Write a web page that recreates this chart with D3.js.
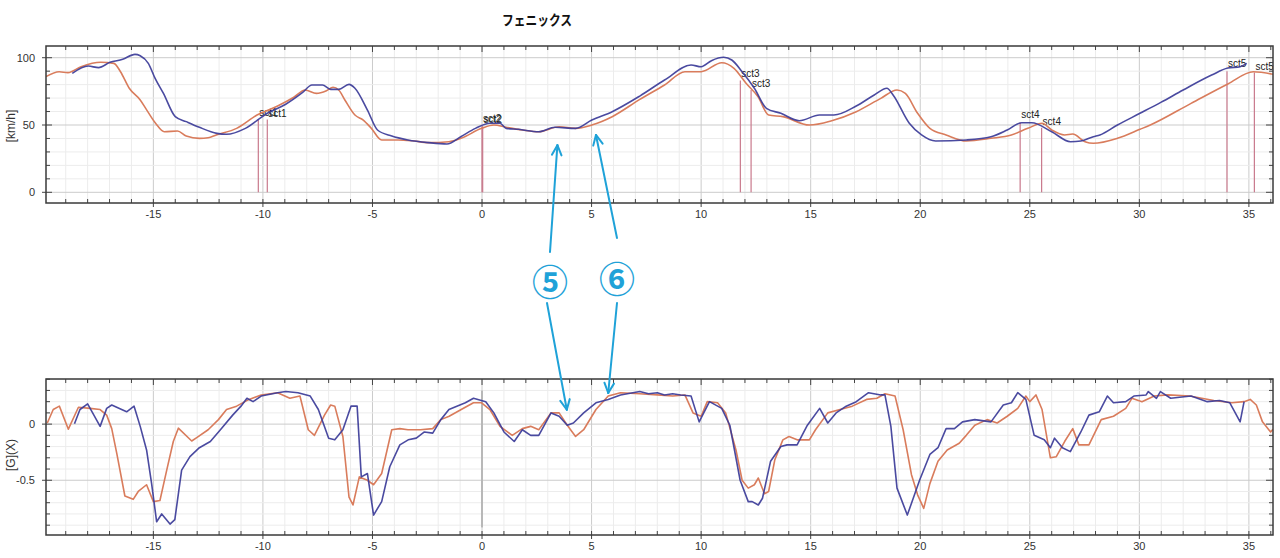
<!DOCTYPE html>
<html><head><meta charset="utf-8">
<script src="https://cdn.jsdelivr.net/npm/d3@7"></script>
<style>body{margin:0;background:#fff}svg{display:block}</style>
</head><body>
<svg id="c" width="1280" height="558"></svg>
<script>
// ---------------- DATA ----------------
const title = "フェニックス";
const speedUnit = "[km/h]";
const gUnit = "[G](X)";

const speedOrangeX = [-19.9,-19.3,-18.9,-18.3,-17.4,-16.8,-16.5,-16.1,-15.6,-15.3,-14.9,-14.5,-13.9,-13.5,-12.9,-12.5,-12.13,-11.2,-10.27,-9.33,-8.59,-8.07,-7.56,-7.1,-6.8,-6.54,-6.26,-5.8,-5.42,-5.05,-4.58,-3.83,-3.19,-2.44,-1.51,-0.96,-0.02,0.54,1.1,1.84,2.59,3.52,4.27,5.01,5.94,7.2,8.33,9.26,10.0,10.94,11.5,12.05,12.6,13.08,13.73,14.94,15.96,17.08,18.2,18.94,19.32,19.88,20.44,21.18,22.1,23.23,24.16,24.91,25.56,26.0,26.59,26.96,27.52,27.9,29.0,30.03,30.5,32.36,34.04,35.2,36.1];
const speedOrange = [86,89.6,88.9,93.3,96.6,95.8,89.6,77.3,68.6,61.1,51.3,45,45.5,41.8,40.1,40.5,42.6,47.5,57.4,64.1,70.6,76,73.5,75.5,78,76,68.6,57.4,53.7,47.5,38.9,38.9,38.3,36.9,37.6,40.1,47.5,50,48.3,46.3,45,48.7,47.5,50,56.2,69,79.7,89.6,89.6,96.3,92.1,81,71,57.4,56.2,50,53.2,59.9,69.8,76,73.5,58.7,47.5,42.6,38.1,40.1,42.6,47.5,51.3,46.3,42.6,43.3,37.6,36.4,40.1,46.8,50,66.1,80.5,89.6,87.7];

const speedBlueX = [-18.7,-17.97,-17.5,-16.98,-16.4,-15.84,-15.6,-15.23,-14.92,-14.54,-14.0,-13.5,-12.9,-12.1,-11.66,-10.8,-9.8,-8.96,-8.2,-7.76,-7.28,-6.91,-6.54,-6.07,-5.8,-5.23,-4.77,-4.12,-3.38,-2.44,-1.6,-0.97,-0.3,0.36,0.82,1.1,1.66,2.59,3.33,4.27,5.01,5.94,7.2,8.33,9.54,10.0,10.47,11.03,11.4,11.87,12.43,12.98,13.64,14.48,15.4,16.06,17.08,17.9,18.48,18.76,19.5,20.06,20.7,22.1,23.23,23.97,24.63,25.09,26.0,26.86,27.33,27.9,28.2,29.0,30.03,31.0,32.0,33.3,34.04,34.6,34.9];
const speedBlue = [88.4,93.8,92.6,96.6,98.8,102.5,101.5,95.8,84.7,73.5,56.2,52.5,48.3,43.8,43.1,47.5,58.7,65.4,74,79.7,79.7,76.5,76.5,80.2,77.3,61.1,46.3,41.8,38.9,36.9,35.9,41.3,47.5,51.3,51.3,47.5,46.8,45,48.3,47.5,53.7,59.9,71.5,83.4,94.6,93.3,97.8,100.3,98.3,89.6,77.3,62.4,58.7,53.2,57.4,57.4,64.1,72.3,77.3,72.3,51.3,42.6,38.1,38.9,41.3,46.3,51.7,51.7,45,37.6,38.1,41.3,42.6,50,58.7,67,76,87.1,92.3,93.3,95.8];

const gOrangeX = [-19.84,-19.57,-19.29,-18.88,-18.42,-17.89,-17.43,-17.13,-16.9,-16.67,-16.3,-15.92,-15.69,-15.31,-15.0,-14.7,-14.39,-14.09,-13.86,-13.25,-13.02,-12.5,-12.03,-11.66,-11.2,-10.63,-10.08,-9.33,-8.77,-8.31,-7.93,-7.65,-7.19,-6.91,-6.72,-6.35,-6.07,-5.89,-5.6,-5.23,-4.95,-4.58,-4.12,-3.75,-3.38,-2.81,-2.25,-1.88,-1.5,-0.95,-0.39,-0.02,0.36,0.82,1.38,1.84,2.22,2.59,3.15,3.52,3.89,4.27,4.64,5.2,5.76,6.32,7.2,8.0,8.7,9.26,9.63,10.0,10.28,10.75,11.12,11.59,11.87,12.15,12.43,12.61,12.89,13.08,13.36,13.73,14.01,14.38,14.94,15.22,15.78,16.34,16.9,17.55,18.02,18.39,18.85,19.22,19.6,19.88,20.16,20.44,20.81,21.23,21.78,22.1,22.49,23.05,23.51,23.97,24.45,24.82,25.0,25.28,25.56,25.94,26.21,26.59,26.96,27.24,27.7,28.26,28.82,29.38,29.66,30.12,30.68,31.3,32.3,33.4,34.22,34.78,35.06,35.34,35.62,35.99,36.1];
const gOrange = [0.01,0.13,0.16,-0.045,0.15,0.14,0.13,0.08,-0.04,-0.26,-0.64,-0.67,-0.6,-0.54,-0.69,-0.68,-0.41,-0.155,-0.036,-0.15,-0.12,-0.05,0.04,0.13,0.16,0.22,0.26,0.28,0.23,0.25,-0.05,-0.1,0.08,0.17,0.16,-0.11,-0.65,-0.72,-0.47,-0.5,-0.54,-0.44,-0.05,-0.04,-0.05,-0.05,-0.04,0.04,0.07,0.13,0.19,0.19,0.13,-0.02,-0.1,-0.04,-0.02,-0.05,0.1,0.1,-0.01,-0.11,-0.05,0.13,0.25,0.28,0.27,0.26,0.25,0.26,0.1,0.07,0.2,0.19,0.1,-0.23,-0.5,-0.57,-0.54,-0.48,-0.62,-0.6,-0.32,-0.14,-0.11,-0.14,-0.14,-0.05,0.1,0.13,0.16,0.22,0.23,0.27,0.25,-0.05,-0.45,-0.63,-0.75,-0.53,-0.33,-0.23,-0.17,-0.1,-0.01,0.04,0.01,0.07,0.14,0.25,0.2,0.26,0.13,-0.3,-0.29,-0.155,-0.04,-0.185,-0.185,0.04,0.07,0.14,0.23,0.2,0.25,0.26,0.25,0.21,0.19,0.2,0.22,0.17,0.02,-0.07,-0.045];

const gBlueX = [-18.6,-18.35,-18.0,-17.43,-17.13,-16.9,-16.22,-15.88,-15.6,-15.31,-15.08,-14.85,-14.62,-14.24,-14.02,-13.71,-13.33,-12.9,-12.4,-11.94,-11.38,-11.0,-10.73,-10.45,-10.08,-9.33,-8.96,-8.4,-7.84,-7.47,-7.0,-6.72,-6.35,-5.98,-5.7,-5.51,-5.23,-4.95,-4.58,-4.21,-3.75,-3.37,-3.0,-2.63,-2.25,-1.88,-1.51,-0.76,-0.39,0.17,0.54,1.0,1.47,1.84,2.22,2.59,3.15,3.52,3.89,4.17,4.64,5.2,5.76,6.32,7.2,7.6,8.0,8.33,8.7,9.07,9.54,9.91,10.38,10.94,11.31,11.78,12.15,12.33,12.61,12.8,13.17,13.64,13.92,14.38,14.85,15.41,15.78,16.16,16.62,17.08,17.64,18.2,18.39,18.66,18.94,19.41,19.97,20.44,20.81,21.18,21.56,21.93,22.49,23.23,23.79,24.16,24.45,24.82,25.2,25.66,25.94,26.13,26.49,26.85,27.33,27.7,28.17,28.54,28.82,29.38,29.75,30.31,30.41,30.78,30.96,31.43,32.36,33.1,33.66,34.13,34.6,34.78];
const gBlue = [0.003,0.13,0.18,-0.02,0.14,0.17,0.11,0.16,-0.02,-0.23,-0.53,-0.87,-0.8,-0.89,-0.85,-0.41,-0.29,-0.21,-0.155,-0.05,0.08,0.16,0.23,0.2,0.25,0.28,0.29,0.28,0.25,0.13,-0.125,-0.14,-0.05,0.16,0.16,-0.47,-0.44,-0.81,-0.69,-0.38,-0.185,-0.14,-0.125,-0.07,-0.08,0.04,0.13,0.19,0.23,0.2,0.1,-0.07,-0.155,-0.05,-0.1,-0.1,0.1,0.07,-0.01,0.01,0.1,0.19,0.22,0.26,0.29,0.27,0.28,0.26,0.27,0.26,0.25,0.02,0.2,0.14,-0.01,-0.5,-0.69,-0.69,-0.72,-0.66,-0.33,-0.2,-0.185,-0.185,-0.01,0.14,0.01,0.1,0.16,0.2,0.28,0.26,0.26,-0.02,-0.57,-0.81,-0.5,-0.27,-0.21,-0.04,-0.04,0.02,0.04,0.02,0.17,0.19,0.28,0.22,-0.1,-0.14,-0.21,-0.125,-0.21,-0.245,-0.07,0.08,0.11,0.25,0.19,0.2,0.25,0.26,0.29,0.23,0.29,0.23,0.25,0.2,0.21,0.19,0.02,0.2];

const markerX = [-10.21,-9.80,0.0,0.03,11.79,12.28,24.56,25.54,34.0,35.25];
const markerTop = [54,54,49,49,83,76,52,48,90,89];
const markerLabel = ["sct1","sct1","sct2","sct2","sct3","sct3","sct4","sct4","sct5","sct5"];

const xTickLabels = [-15,-10,-5,0,5,10,15,20,25,30,35];
const speedTickLabels = [0,50,100];
const gTickLabels = [-0.5,0];

const annoLabels = ["⑤","⑥"];
const annoTopX = [3.44,5.2], annoTopV = [35,42.6];
const annoBotX = [3.87,5.76], annoBotV = [0.128,0.277];

// ---------------- LAYOUT ----------------
const svg = d3.select("#c");
const L = 46, R = 1273;
const x = d3.scaleLinear().domain([-19.9, 36.1]).range([L, R]);
const yTop = d3.scaleLinear().domain([-7.95, 108.7]).range([203, 46]);
const yBot = d3.scaleLinear().domain([-0.9875, 0.4018]).range([535, 379]);
const ORANGE = "#d97c5c", BLUE = "#3b3b98", MARK = "#c9798c", CYAN = "#1fa2d8";
const FONT = "'Liberation Sans', Arial, sans-serif";

svg.append("text").attr("x", 537).attr("y", 25).attr("text-anchor","middle")
  .attr("font-family","'Noto Sans CJK JP'").attr("font-weight",700).attr("font-size",14)
  .attr("textLength",70).attr("lengthAdjust","spacingAndGlyphs").attr("fill","#111").text(title);

function panel(y, minorStep, majorStep, tickLabels, fmt, unit, unitY, clipId) {
  const g = svg.append("g");
  const [y0, y1] = y.domain();
  const top = y.range()[1], bot = y.range()[0];
  const xs = d3.range(Math.ceil(x.domain()[0]), Math.floor(x.domain()[1]) + 1);
  const isMajX = v => Math.abs(v % 5) < 1e-9;
  const ys = d3.range(Math.ceil(y0 / minorStep - 1e-9), Math.floor(y1 / minorStep + 1e-9) + 1).map(k => +(k * minorStep).toFixed(6));
  const isMajY = v => Math.abs(v / majorStep - Math.round(v / majorStep)) < 1e-6;
  g.selectAll(".vx").data(xs).join("line").attr("x1", d => x(d)).attr("x2", d => x(d))
    .attr("y1", top).attr("y2", bot).attr("stroke", d => isMajX(d) ? "#cbcbcb" : "#ececec").attr("stroke-width", 1);
  g.selectAll(".hy").data(ys).join("line").attr("y1", d => y(d)).attr("y2", d => y(d))
    .attr("x1", L).attr("x2", R).attr("stroke", d => isMajY(d) ? "#cbcbcb" : "#ececec").attr("stroke-width", 1);
  svg.append("clipPath").attr("id", clipId).append("rect").attr("x", L).attr("y", top).attr("width", R - L).attr("height", bot - top);
  const t = svg.append("g").attr("stroke", "#444").attr("stroke-width", 1);
  t.selectAll(".tb").data(xs).join("line").attr("x1", d => x(d)).attr("x2", d => x(d))
    .attr("y1", d => isMajX(d) ? bot + 4 : bot).attr("y2", bot - 4);
  t.selectAll(".tt").data(xs).join("line").attr("x1", d => x(d)).attr("x2", d => x(d))
    .attr("y1", top).attr("y2", d => isMajX(d) ? top + 6 : top + 4);
  t.selectAll(".tl").data(ys).join("line").attr("y1", d => y(d)).attr("y2", d => y(d))
    .attr("x1", d => isMajY(d) ? L - 4 : L).attr("x2", d => isMajY(d) ? L + 6 : L + 4);
  t.selectAll(".tr").data(ys).join("line").attr("y1", d => y(d)).attr("y2", d => y(d))
    .attr("x1", d => isMajY(d) ? R - 7 : R - 4).attr("x2", R);
  svg.append("g").selectAll("text").data(xTickLabels).join("text")
    .attr("x", d => x(d)).attr("y", bot + 15).attr("text-anchor", "middle")
    .attr("font-family", FONT).attr("font-size", 11).attr("fill", "#333").text(d => d);
  svg.append("g").selectAll("text").data(tickLabels).join("text")
    .attr("x", L - 11).attr("y", d => y(d) + 4).attr("text-anchor", "end")
    .attr("font-family", FONT).attr("font-size", 11).attr("fill", "#333").text(fmt);
  svg.append("text").attr("transform", `translate(15,${unitY}) rotate(-90)`).attr("text-anchor", "middle")
    .attr("font-family", FONT).attr("font-size", 12).attr("fill", "#333").text(unit);
  return { top, bot };
}

function series(y, xs, vs, color, clipId, op, curve) {
  const line = d3.line().x(d => x(d[0])).y(d => y(d[1])).curve(curve);
  svg.append("path").datum(d3.zip(xs, vs)).attr("d", line).attr("fill", "none")
    .attr("stroke", color).attr("stroke-width", 1.6).attr("stroke-linejoin", "round")
    .attr("opacity", op).attr("clip-path", `url(#${clipId})`);
}

// top panel
const pt = panel(yTop, 10, 50, speedTickLabels, d => d, speedUnit, 126, "clipTop");
const mk = svg.append("g");
mk.selectAll("line").data(d3.range(markerX.length)).join("line")
  .attr("x1", i => x(markerX[i])).attr("x2", i => x(markerX[i]))
  .attr("y1", yTop(0)).attr("y2", i => yTop(markerTop[i]))
  .attr("stroke", MARK).attr("stroke-width", 1.2);
series(yTop, speedOrangeX, speedOrange, ORANGE, "clipTop", 1, d3.curveMonotoneX);
series(yTop, speedBlueX, speedBlue, BLUE, "clipTop", 0.92, d3.curveMonotoneX);
mk.selectAll("text").data(d3.range(markerX.length)).join("text")
  .attr("x", i => x(markerX[i]) + 1).attr("y", i => yTop(markerTop[i]) - 4 + (i % 2) * 1)
  .attr("font-family", FONT).attr("font-size", 10).attr("fill", "#222")
  .attr("clip-path", "url(#clipTop)").text(i => markerLabel[i]);
svg.append("rect").attr("x", L).attr("y", pt.top).attr("width", R - L).attr("height", pt.bot - pt.top)
  .attr("fill", "none").attr("stroke", "#3a3a3a").attr("stroke-width", 1.5);

// bottom panel
const pb = panel(yBot, 0.1, 0.5, gTickLabels, d => d, gUnit, 455, "clipBot");
svg.append("line").attr("x1", x(0)).attr("x2", x(0)).attr("y1", yBot(0.3)).attr("y2", yBot(-0.92))
  .attr("stroke", "#b8b8b8").attr("stroke-width", 2);
series(yBot, gOrangeX, gOrange, ORANGE, "clipBot", 1, d3.curveLinear);
series(yBot, gBlueX, gBlue, BLUE, "clipBot", 0.92, d3.curveLinear);
svg.append("rect").attr("x", L).attr("y", pb.top).attr("width", R - L).attr("height", pb.bot - pb.top)
  .attr("fill", "none").attr("stroke", "#3a3a3a").attr("stroke-width", 1.5);

// annotations
const labelPos = [[550, 280], [617, 277]];
const tailTop = [[550, 252], [617, 238]];
const tailBot = [[547, 303], [617, 303]];
const an = svg.append("g").attr("stroke", CYAN).attr("stroke-width", 2).attr("fill", "none").attr("stroke-linecap", "round");
function arrow(t, h) {
  an.append("line").attr("x1", t[0]).attr("y1", t[1]).attr("x2", h[0]).attr("y2", h[1]);
  const a = Math.atan2(h[1] - t[1], h[0] - t[0]), len = 11, sp = 0.45;
  [a + Math.PI - sp, a + Math.PI + sp].forEach(b => {
    an.append("line").attr("x1", h[0]).attr("y1", h[1])
      .attr("x2", h[0] + len * Math.cos(b)).attr("y2", h[1] + len * Math.sin(b));
  });
}
annoLabels.forEach((s, i) => {
  arrow(tailTop[i], [x(annoTopX[i]), yTop(annoTopV[i])]);
  arrow(tailBot[i], [x(annoBotX[i]), yBot(annoBotV[i])]);
  svg.append("text").attr("x", labelPos[i][0]).attr("y", labelPos[i][1])
    .attr("text-anchor", "middle").attr("dominant-baseline", "central")
    .attr("font-family", "'Noto Sans CJK JP'").attr("font-weight", 700).attr("font-size", 36)
    .attr("fill", CYAN).text(s);
});
</script>
</body></html>
